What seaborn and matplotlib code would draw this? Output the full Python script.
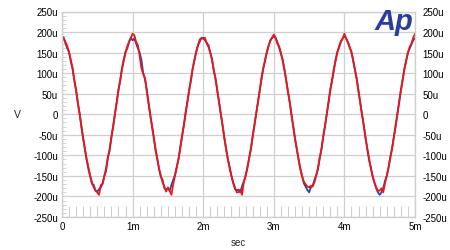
import numpy as np
import pandas as pd
import matplotlib
matplotlib.use("Agg")
import matplotlib.pyplot as plt
import seaborn as sns

# time in ms, step 0.025 ms
time_ms = [round(i * 0.025, 3) for i in range(201)]

blue_uV = [
    190, 186, 172, 160, 152, 128, 112, 80, 58, 26, 2, -32, -60, -86, -112, -134, -152, -170, -172, -186,
    -188, -182, -178, -168, -150, -138, -104, -88, -55, -30, 2, 28, 60, 82, 112, 134, 152, 160, 176, 186,
    180, 184, 172, 160, 150, 132, 100, 86, 60, 26, -3, -30, -55, -88, -108, -134, -152, -160, -180, -184,
    -180, -186, -172, -160, -148, -128, -110, -80, -52, -28, 4, 30, 58, 80, 110, 130, 152, 168, 176, 186,
    186, 180, 174, 168, 150, 134, 106, 86, 58, 30, 0, -28, -58, -86, -110, -128, -150, -168, -182, -186,
    -183, -190, -175, -164, -150, -130, -107, -86, -55, -26, 2, 30, 56, 88, 112, 128, 150, 166, 180, 186,
    190, 186, 176, 162, 148, 134, 110, 82, 55, 30, -2, -30, -60, -84, -108, -134, -150, -168, -176, -184,
    -190, -178, -174, -160, -148, -134, -108, -86, -55, -30, 0, 30, 60, 80, 106, 132, 152, 162, 176, 184,
    192, 184, 174, 162, 152, 128, 108, 86, 56, 26, -3, -28, -58, -86, -112, -130, -152, -166, -180, -190,
    -196, -190, -180, -162, -150, -130, -104, -84, -55, -30, 0, 30, 58, 84, 110, 130, 150, 160, 170, 180,
    185,
]
red_uV = [
    185, 184, 175, 166, 150, 132, 110, 84, 58, 28, 0, -28, -58, -84, -110, -130, -150, -166, -178, -186,
    -190, -196, -172, -170, -150, -130, -106, -84, -56, -28, 0, 30, 58, 84, 110, 130, 150, 166, 176, 186,
    196, 192, 176, 168, 142, 112, 98, 88, 58, 30, 0, -28, -58, -84, -110, -132, -150, -166, -176, -188,
    -178, -186, -196, -170, -150, -130, -108, -84, -56, -28, 0, 28, 56, 84, 110, 132, 150, 166, 182, 184,
    184, 186, 172, 164, 150, 132, 108, 86, 56, 28, 0, -28, -58, -84, -110, -132, -150, -166, -178, -190,
    -190, -184, -196, -166, -150, -132, -108, -84, -55, -28, 0, 28, 58, 84, 110, 132, 150, 166, 178, 186,
    194, 186, 172, 166, 150, 130, 108, 84, 56, 30, 0, -28, -58, -84, -110, -130, -150, -164, -170, -176,
    -178, -174, -176, -166, -150, -132, -106, -84, -55, -28, 0, 28, 58, 84, 110, 130, 150, 166, 178, 184,
    196, 184, 176, 164, 150, 132, 108, 84, 56, 28, 0, -28, -58, -84, -108, -132, -150, -166, -178, -186,
    -186, -180, -190, -168, -150, -130, -106, -84, -56, -28, 0, 28, 58, 84, 110, 130, 150, 164, 172, 186,
    196,
]

x_ticks = [0, 1, 2, 3, 4, 5]
x_labels = ["0", "1m", "2m", "3m", "4m", "5m"]
y_ticks = [-250, -200, -150, -100, -50, 0, 50, 100, 150, 200, 250]
y_labels = ["-250u", "-200u", "-150u", "-100u", "-50u", "0", "50u", "100u", "150u", "200u", "250u"]

df = pd.DataFrame({
    "t": time_ms * 2,
    "v": blue_uV + red_uV,
    "ch": ["A"] * len(time_ms) + ["B"] * len(time_ms),
})

sns.set_style("white")
plt.rcParams["font.family"] = ["Liberation Sans", "DejaVu Sans"]

fig = plt.figure(figsize=(4.5, 2.51), dpi=100)
ax = fig.add_axes([62 / 450, 1 - 218 / 251, (415 - 62) / 450, (218 - 12.5) / 251])

sns.lineplot(data=df, x="t", y="v", hue="ch", palette={"A": "#2448a8", "B": "#f01414"},
             linewidth=1.3, legend=False, ax=ax, estimator=None, sort=False)

ax.set_xlim(0, 5)
ax.set_ylim(-250, 250)
ax.set_xticks(x_ticks)
ax.set_xticklabels(x_labels)
ax.set_yticks(y_ticks)
ax.set_yticklabels(y_labels)
ax.set_xticks(np.arange(0, 5.01, 0.1), minor=True)
ax.set_yticks(np.arange(-250, 251, 10), minor=True)

grid_c = "#cfcfcf"
ax.grid(True, which="major", color=grid_c, linewidth=0.9)
for s in ax.spines.values():
    s.set_color(grid_c)
    s.set_linewidth(1.0)

ax.tick_params(axis="both", which="major", length=0, labelsize=7, colors="#000000", pad=3)
ax.tick_params(axis="x", which="minor", direction="in", length=8, width=0.8, color=grid_c, bottom=True)
ax.tick_params(axis="y", which="minor", direction="in", length=3, width=0.6, color=grid_c, left=True, right=True)

# right-hand labels
ax2 = ax.twinx()
ax2.set_ylim(-250, 250)
ax2.set_yticks(y_ticks)
ax2.set_yticklabels(y_labels)
ax2.tick_params(axis="y", which="major", length=0, labelsize=7, colors="#000000", pad=5.5)
for s in ax2.spines.values():
    s.set_visible(False)
ax2.grid(False)

ax.set_xlabel("sec", fontsize=7, labelpad=4)
ax.set_ylabel("V", fontsize=7.5, rotation=0, labelpad=11, va="center")

fig.text(413 / 450, 1 - 8 / 251, "Ap", fontsize=21, fontweight="bold", fontstyle="italic",
         color="#2a3c9c", ha="right", va="top")

fig.savefig("out.png", dpi=100)
